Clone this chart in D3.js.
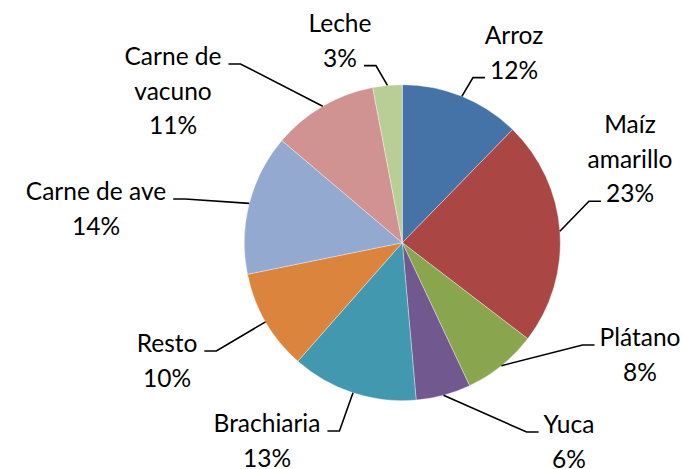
<!DOCTYPE html>
<html>
<head>
<meta charset="utf-8">
<script src="https://cdn.jsdelivr.net/npm/d3@7"></script>
<style>
  html, body { margin: 0; padding: 0; background: #fff; }
  svg { display: block; }
  .lbl { font-family: Lato, 'Open Sans', sans-serif; font-size: 24.5px; fill: #000; }
</style>
</head>
<body>
<script>
(function () {
  'use strict'

  // Data (percent shares, clockwise from 12 o'clock)
  var categories = ['Arroz', 'Maíz amarillo', 'Plátano', 'Yuca', 'Brachiaria',
    'Resto', 'Carne de ave', 'Carne de vacuno', 'Leche']
  var shares = [12.3, 23.1, 7.6, 5.6, 12.9, 10.3, 14.4, 10.8, 3.0]
  var colors = ['#4572A7', '#AA4643', '#89A54E', '#71588F', '#4198AF',
    '#DB843D', '#93A9CF', '#D19392', '#B9CD96']

  // Label layout (centre x, first baseline, wrap name, leader attaches to line / side)
  var labelLayout = [
    { x: 514, y: 44, wrap: false, line: 1, side: 'left' },
    { x: 630, y: 133, wrap: true, line: 2, side: 'left' },
    { x: 640, y: 346, wrap: false, line: 0, side: 'left' },
    { x: 569, y: 433, wrap: false, line: 0, side: 'left' },
    { x: 267, y: 432, wrap: false, line: 0, side: 'right' },
    { x: 167, y: 352, wrap: false, line: 0, side: 'right' },
    { x: 96, y: 200, wrap: false, line: 0, side: 'right' },
    { x: 173, y: 65, wrap: true, line: 0, side: 'right' },
    { x: 340, y: 32, wrap: false, line: 1, side: 'right' }
  ]

  var w = 685
  var h = 469
  var cx = 402.3
  var cy = 242.7
  var radius = 158
  var lineHeight = 34.6

  var data = categories.map(function (c, i) {
    return { name: c, value: shares[i], color: colors[i], layout: labelLayout[i] }
  })

  var pct = d3.format('.0%')

  var svg = d3.select('body').append('svg')
    .attr('width', w)
    .attr('height', h)

  var pie = d3.pie()
    .sort(null)
    .value(function (d) { return d.value })

  var arc = d3.arc()
    .innerRadius(0)
    .outerRadius(radius)

  var arcs = pie(data)

  var g = svg.append('g')
    .attr('transform', 'translate(' + cx + ',' + cy + ')')

  // Slices
  g.selectAll('path.slice')
    .data(arcs)
    .enter().append('path')
      .attr('class', 'slice')
      .attr('d', arc)
      .attr('fill', function (d) { return d.data.color })
      .attr('stroke', '#fff')
      .attr('stroke-opacity', 0.6)
      .attr('stroke-width', 0.6)

  // Labels
  var labels = svg.selectAll('g.label')
    .data(arcs)
    .enter().append('g')
      .attr('class', 'label')

  labels.each(function (d) {
    var lay = d.data.layout
    var name = d.data.name
    var lines
    if (lay.wrap) {
      var k = name.lastIndexOf(' ')
      lines = [name.slice(0, k), name.slice(k + 1)]
    } else {
      lines = [name]
    }
    lines.push(pct(d.data.value / 100))

    var sel = d3.select(this)
    var widths = []
    lines.forEach(function (t, i) {
      var txt = sel.append('text')
        .attr('class', 'lbl')
        .attr('x', lay.x)
        .attr('y', lay.y + i * lineHeight)
        .attr('text-anchor', 'middle')
        .text(t)
      widths.push(txt.node().getComputedTextLength())
    })

    // Leader line: slice edge at mid angle -> elbow -> short horizontal by the text
    var a = (d.startAngle + d.endAngle) / 2
    var px = cx + radius * Math.sin(a)
    var py = cy - radius * Math.cos(a)
    var ly = lay.y + lay.line * lineHeight - 1
    var half = widths[lay.line] / 2
    var hx, ex
    if (lay.side === 'left') {
      hx = lay.x - half - 5
      ex = hx - 12
    } else {
      hx = lay.x + half + 7
      ex = hx + 12
    }
    sel.append('path')
      .attr('d', d3.line()([[px, py], [ex, ly], [hx, ly]]))
      .attr('fill', 'none')
      .attr('stroke', '#000')
      .attr('stroke-width', 1.6)
  })
}())
</script>
</body>
</html>
